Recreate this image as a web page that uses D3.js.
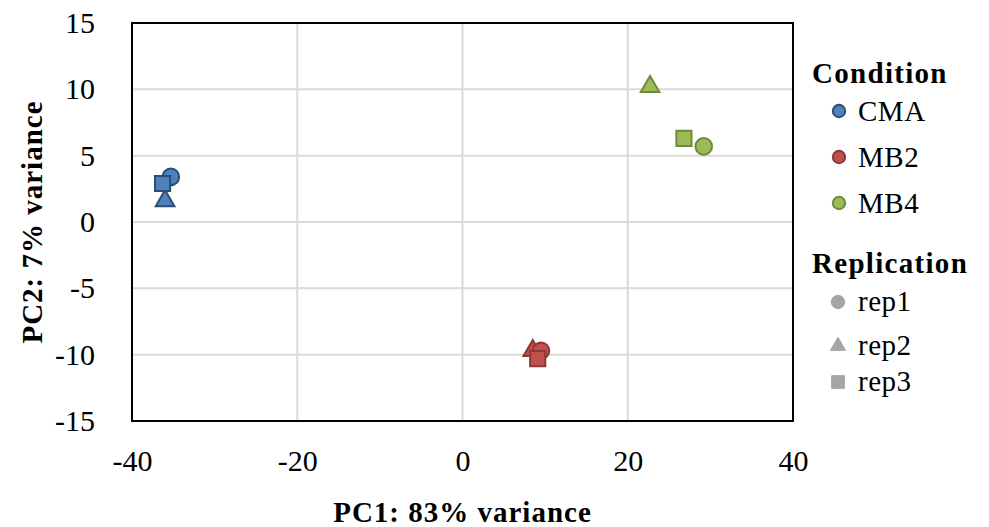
<!DOCTYPE html>
<html lang="en">
<head>
    <meta charset="UTF-8">
    <title>PCA plot</title>
    <script src="https://d3js.org/d3.v7.min.js"></script>
    <style>
        body { margin: 0; background: #fff; }
        svg text { font-family: "Liberation Serif", "DejaVu Serif", serif; fill: #000; }
    </style>
</head>
<body>
<div id="chart"></div>
<script>
    // Data
    const conditions = ["CMA", "MB2", "MB4"];
    const replications = ["rep1", "rep2", "rep3"];
    const pc1 = [
        [-35.3, -36.0, -36.3],   // CMA rep1..rep3
        [9.5, 8.5, 9.1],         // MB2
        [29.2, 22.7, 26.8]       // MB4
    ];
    const pc2 = [
        [3.4, 1.6, 2.9],
        [-9.7, -9.7, -10.3],
        [5.7, 10.2, 6.3]
    ];
    const xTicks = [-40, -20, 0, 20, 40];
    const yTicks = [-15, -10, -5, 0, 5, 10, 15];

    const fills = { CMA: "#4f81bd", MB2: "#c0504d", MB4: "#9bbb59" };
    const strokes = { CMA: "#2c4d75", MB2: "#8c3836", MB4: "#71893f" };

    const width = 989, height = 527;
    const plot = { left: 132, right: 793, top: 23, bottom: 421 };

    // plain hyphen for negatives, like the original
    const fmt = d => String(d);

    const svg = d3.select("#chart").append("svg")
        .attr("width", width)
        .attr("height", height);

    const x = d3.scaleLinear().domain([-40, 40]).range([plot.left, plot.right]);
    const y = d3.scaleLinear().domain([-15, 15]).range([plot.bottom, plot.top]);

    // gridlines
    svg.append("g")
        .selectAll("line")
        .data(xTicks.slice(1, -1))
        .join("line")
        .attr("x1", d => x(d)).attr("x2", d => x(d))
        .attr("y1", plot.top).attr("y2", plot.bottom)
        .attr("stroke", "#d9d9d9").attr("stroke-width", 2);
    svg.append("g")
        .selectAll("line")
        .data(yTicks.slice(1, -1))
        .join("line")
        .attr("y1", d => y(d)).attr("y2", d => y(d))
        .attr("x1", plot.left).attr("x2", plot.right)
        .attr("stroke", "#d9d9d9").attr("stroke-width", 2);

    // axes (labels only, Excel style)
    const xAxis = svg.append("g")
        .attr("transform", `translate(0,${plot.bottom + 26})`)
        .call(d3.axisBottom(x).tickValues(xTicks).tickSize(0).tickFormat(fmt));
    xAxis.select(".domain").remove();
    xAxis.selectAll("text").attr("font-size", 30).attr("font-family", "Liberation Serif");

    const yAxis = svg.append("g")
        .attr("transform", `translate(${plot.left - 34},0)`)
        .call(d3.axisLeft(y).tickValues(yTicks).tickSize(0).tickFormat(fmt));
    yAxis.select(".domain").remove();
    yAxis.selectAll("text").attr("font-size", 30).attr("font-family", "Liberation Serif");

    // plot border
    svg.append("rect")
        .attr("x", plot.left).attr("y", plot.top)
        .attr("width", plot.right - plot.left)
        .attr("height", plot.bottom - plot.top)
        .attr("fill", "none").attr("stroke", "#000").attr("stroke-width", 2);

    // axis titles
    svg.append("text")
        .attr("x", (plot.left + plot.right) / 2).attr("y", 522)
        .attr("text-anchor", "middle")
        .attr("font-size", 29).attr("font-weight", "bold")
        .attr("letter-spacing", 1)
        .text("PC1: 83% variance");
    svg.append("text")
        .attr("transform", `translate(42,${(plot.top + plot.bottom) / 2}) rotate(-90)`)
        .attr("text-anchor", "middle")
        .attr("font-size", 29).attr("font-weight", "bold")
        .attr("letter-spacing", 1)
        .text("PC2: 7% variance");

    const shapes = { rep1: d3.symbolCircle, rep2: d3.symbolTriangle, rep3: d3.symbolSquare };
    const sizes = { rep1: 215, rep2: 150, rep3: 230 };

    // points
    const points = [];
    conditions.forEach((c, i) => {
        replications.forEach((r, j) => {
            points.push({ cond: c, rep: r, pc1: pc1[i][j], pc2: pc2[i][j] });
        });
    });
    // draw order: triangles, circles, squares (squares on top as in reference)
    const order = { rep2: 0, rep1: 1, rep3: 2 };
    points.sort((a, b) => order[a.rep] - order[b.rep]);

    svg.append("g")
        .selectAll("path")
        .data(points)
        .join("path")
        .attr("transform", d => `translate(${x(d.pc1)},${y(d.pc2)})`)
        .attr("d", d => d3.symbol(shapes[d.rep], sizes[d.rep])())
        .attr("fill", d => fills[d.cond])
        .attr("stroke", d => strokes[d.cond])
        .attr("stroke-width", 2);

    // legend
    const leg = svg.append("g");
    leg.append("text")
        .attr("x", 812).attr("y", 83)
        .attr("font-size", 29).attr("font-weight", "bold")
        .attr("letter-spacing", 1.3)
        .text("Condition");
    const condY = [111, 157, 203];
    conditions.forEach((c, i) => {
        leg.append("path")
            .attr("transform", `translate(839,${condY[i]})`)
            .attr("d", d3.symbol(d3.symbolCircle, 120)())
            .attr("fill", fills[c]).attr("stroke", strokes[c]).attr("stroke-width", 2);
        leg.append("text")
            .attr("x", 858).attr("y", condY[i] + 10)
            .attr("font-size", 29)
            .attr("letter-spacing", 0.5)
            .text(c);
    });
    leg.append("text")
        .attr("x", 812).attr("y", 273)
        .attr("font-size", 29).attr("font-weight", "bold")
        .attr("letter-spacing", 1.3)
        .text("Replication");
    const repY = [302, 346, 382];
    const legSizes = { rep1: 140, rep2: 100, rep3: 160 };
    replications.forEach((r, i) => {
        leg.append("path")
            .attr("transform", `translate(838,${repY[i]})`)
            .attr("d", d3.symbol(shapes[r], legSizes[r])())
            .attr("fill", "#a5a5a5").attr("stroke", "#a5a5a5").attr("stroke-width", 1);
        leg.append("text")
            .attr("x", 858).attr("y", repY[i] + 9)
            .attr("font-size", 29)
            .attr("letter-spacing", 0.5)
            .text(r);
    });
</script>
</body>
</html>
